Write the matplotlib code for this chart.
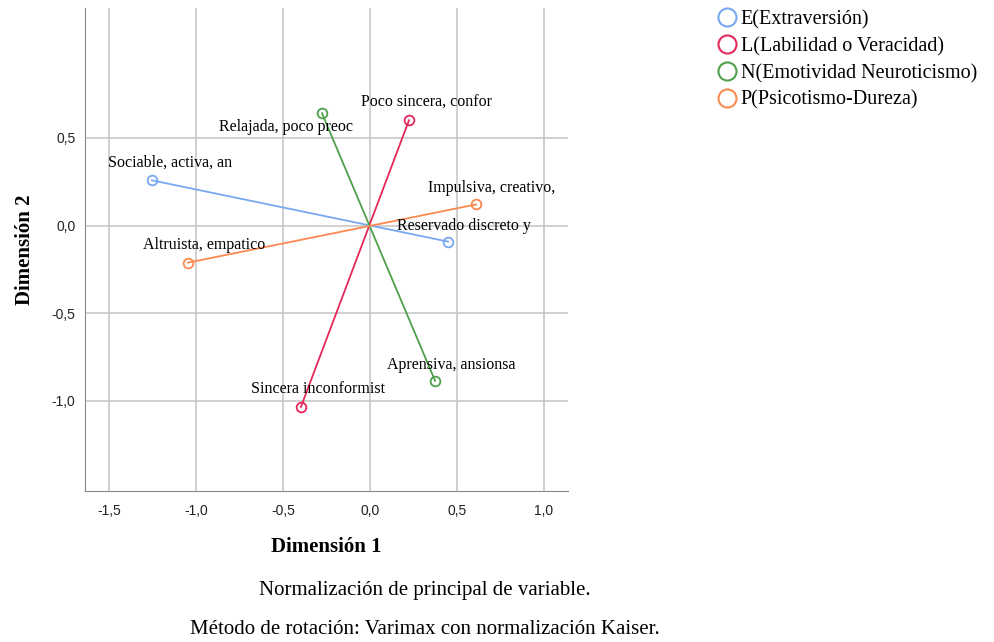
import matplotlib
matplotlib.use("Agg")
import matplotlib.pyplot as plt
from matplotlib.lines import Line2D

# biplot coordinates (dimension 1, dimension 2) for each pole
series = ["E(Extraversión)", "L(Labilidad o Veracidad)",
          "N(Emotividad Neuroticismo)", "P(Psicotismo-Dureza)"]
colors = ["#78a8f0", "#e4285a", "#4ea04a", "#fa8a50"]
pos_labels = ["Reservado discreto y", "Poco sincera, confor",
              "Relajada, poco preoc", "Impulsiva, creativo,"]
pos_x = [0.448, 0.224, -0.276, 0.609]
pos_y = [-0.092, 0.601, 0.641, 0.120]
neg_labels = ["Sociable, activa, an", "Sincera inconformist",
              "Aprensiva, ansionsa", "Altruista, empatico"]
neg_x = [-1.253, -0.397, 0.374, -1.046]
neg_y = [0.258, -1.036, -0.887, -0.212]

# label offsets in pixels (text centre relative to point)
pos_off = [(16, 16), (18, 18), (-36, -14), (16, 16)]
neg_off = [(18, 18), (17, 18), (16, 16), (16, 18)]

SERIF = "Liberation Serif"
SANS = "Liberation Sans"

fig = plt.figure(figsize=(9.95, 6.42), dpi=100)
ax = fig.add_axes([0.0854, 0.235, 0.4855, 0.7525])

ax.set_xlim(-1.638, 1.138)
ax.set_ylim(-1.517, 1.242)
ax.set_xticks([-1.5, -1.0, -0.5, 0.0, 0.5, 1.0])
ax.set_yticks([-1.0, -0.5, 0.0, 0.5])
ax.set_xticklabels(["-1,5", "-1,0", "-0,5", "0,0", "0,5", "1,0"], family=SANS, fontsize=10)
ax.set_yticklabels(["-1,0", "-0,5", "0,0", "0,5"], family=SANS, fontsize=10)
ax.tick_params(axis="x", length=0, pad=9, colors="#222222")
ax.tick_params(axis="y", length=0, pad=7, colors="#222222")
ax.grid(True, color="#c8c8c8", linewidth=1.2)
ax.set_axisbelow(True)
for side in ["top", "right"]:
    ax.spines[side].set_visible(False)
for side in ["left", "bottom"]:
    ax.spines[side].set_color("#888888")

for i in range(len(series)):
    ax.plot([neg_x[i], pos_x[i]], [neg_y[i], pos_y[i]], color=colors[i], linewidth=1.3,
            marker="o", markersize=7, markerfacecolor="none", markeredgewidth=1.3, zorder=3)
    ax.annotate(pos_labels[i], (pos_x[i], pos_y[i]), xytext=pos_off[i], textcoords="offset pixels",
                ha="center", va="center", family=SERIF, fontsize=11.5, zorder=4)
    ax.annotate(neg_labels[i], (neg_x[i], neg_y[i]), xytext=neg_off[i], textcoords="offset pixels",
                ha="center", va="center", family=SERIF, fontsize=11.5, zorder=4)

ax.set_xlabel("Dimensión 1", family=SERIF, fontsize=15, fontweight="bold", labelpad=14)
ax.set_ylabel("Dimensión 2", family=SERIF, fontsize=15, fontweight="bold", labelpad=12)

handles = [Line2D([], [], linestyle="none", marker="o", markersize=13, markerfacecolor="none",
                  markeredgecolor=c, markeredgewidth=1.5) for c in colors]
fig.legend(handles, series, loc="upper left", bbox_to_anchor=(0.713, 0.997), frameon=False,
           prop={"family": SERIF, "size": 14.5}, handlelength=0.9, handletextpad=0.25,
           labelspacing=0.38, borderaxespad=0)

fig.text(0.427, 1 - 591 / 642, "Normalización de principal de variable.", ha="center", va="center",
         family=SERIF, fontsize=15)
fig.text(0.427, 1 - 629 / 642, "Método de rotación: Varimax con normalización Kaiser.", ha="center",
         va="center", family=SERIF, fontsize=15)

fig.savefig("out.png", dpi=100)
